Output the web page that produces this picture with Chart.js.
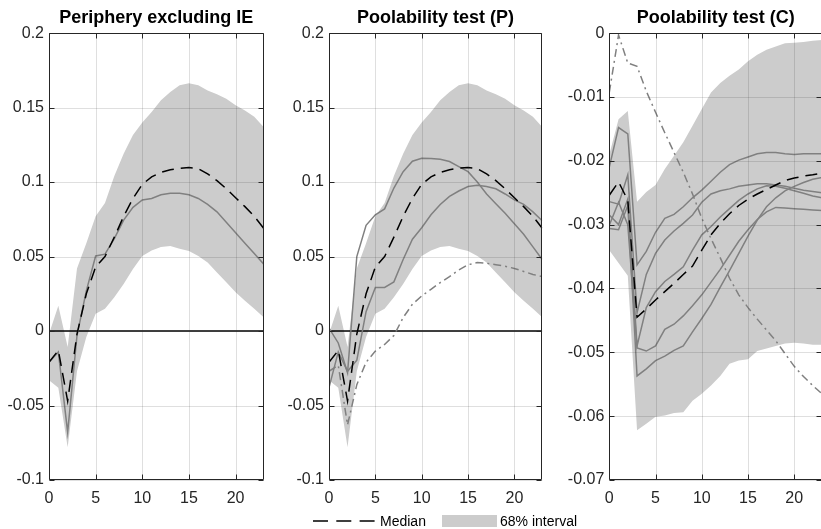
<!DOCTYPE html>
<html>
<head>
<meta charset="utf-8">
<script src="https://cdn.jsdelivr.net/npm/chart.js@4.4.1/dist/chart.umd.min.js"></script>
<style>
  html, body { margin: 0; padding: 0; background: #fff; }
  body { width: 821px; height: 529px; overflow: hidden; position: relative;
         font-family: "Liberation Sans", Arial, sans-serif; }
  canvas { position: absolute; top: 0; }
  .leg { position: absolute; font-size: 14px; color: #000; line-height: 14px; white-space: nowrap; }
</style>
</head>
<body>
<canvas id="p1" width="270" height="510" style="left:0px"></canvas>
<canvas id="p2" width="272" height="510" style="left:275px"></canvas>
<canvas id="p3" width="284" height="510" style="left:546px"></canvas>

<svg style="position:absolute;left:0;top:505px" width="821" height="24">
  <line x1="313" y1="16" x2="377" y2="16" stroke="#000" stroke-width="1.5" stroke-dasharray="15,8.3"></line>
  <rect x="442" y="10" width="55" height="12" fill="#cccccc"></rect>
</svg>
<div class="leg" style="left:380px;top:514px">Median</div>
<div class="leg" style="left:500px;top:514px">68% interval</div>

<script>
// Impulse-response horizons (quarters)
const horizons = [0,1,2,3,4,5,6,7,8,9,10,11,12,13,14,15,16,17,18,19,20,21,22,23];
const xTicks = [0, 5, 10, 15, 20];

// Pooled periphery model (excluding IE): median and 68% band
const medianPooled = [-0.021,-0.013,-0.047,-0.002,0.025,0.043,0.050,0.063,0.077,0.089,0.0985,0.1035,0.1065,0.1083,0.1093,0.1097,0.109,0.1055,0.101,0.0955,0.0895,0.0835,0.077,0.069];
const upperPooled  = [-0.002,0.017,-0.0107,0.042,0.059,0.077,0.086,0.104,0.119,0.1316,0.140,0.147,0.155,0.1604,0.165,0.1664,0.165,0.1615,0.159,0.156,0.1516,0.148,0.1438,0.137];
const lowerPooled  = [-0.033,-0.038,-0.078,-0.027,-0.004,0.0116,0.015,0.0227,0.0316,0.0416,0.0504,0.054,0.0564,0.057,0.0553,0.0538,0.0504,0.046,0.0393,0.0327,0.026,0.0204,0.0149,0.0093];
const peripheryLine = [-0.021,-0.014,-0.068,-0.003,0.027,0.0504,0.0516,0.062,0.0745,0.083,0.088,0.089,0.0915,0.0925,0.0925,0.0915,0.089,0.085,0.080,0.073,0.066,0.059,0.052,0.045];

// Poolability test (P): individual country responses
const countryPA = [0.002,-0.008,-0.028,0.050,0.071,0.078,0.082,0.096,0.107,0.114,0.116,0.1158,0.1153,0.1138,0.1104,0.107,0.100,0.092,0.0855,0.079,0.072,0.065,0.0565,0.048];
const countryPB = [-0.038,-0.014,-0.027,-0.0196,0.013,0.0293,0.0293,0.033,0.048,0.0616,0.0693,0.078,0.085,0.0904,0.094,0.097,0.0978,0.097,0.0955,0.092,0.088,0.085,0.080,0.074];
const excludedP = [-0.027,-0.023,-0.063,-0.036,-0.021,-0.0135,-0.009,-0.003,0.009,0.018,0.0235,0.028,0.0325,0.0365,0.041,0.0445,0.046,0.0455,0.0445,0.0435,0.042,0.040,0.038,0.0365];

// Poolability test (C): median, band, country responses and excluded country
const medianC = [-0.0254,-0.0233,-0.0262,-0.0445,-0.0432,-0.0418,-0.0405,-0.0392,-0.0378,-0.0365,-0.0340,-0.0316,-0.0298,-0.0283,-0.0270,-0.0260,-0.0252,-0.0245,-0.0238,-0.0231,-0.0227,-0.0224,-0.0222,-0.0219];
const upperC  = [-0.019,-0.0135,-0.0122,-0.0264,-0.0249,-0.0238,-0.0213,-0.0192,-0.0171,-0.0145,-0.0119,-0.0093,-0.0078,-0.0067,-0.0057,-0.0044,-0.0034,-0.0026,-0.0021,-0.0016,-0.0015,-0.0014,-0.0012,-0.0011];
const lowerC  = [-0.034,-0.036,-0.038,-0.0622,-0.0612,-0.0601,-0.0599,-0.0595,-0.0594,-0.0576,-0.0565,-0.0552,-0.0537,-0.0518,-0.0513,-0.0511,-0.0498,-0.0494,-0.049,-0.0486,-0.0485,-0.0486,-0.0488,-0.0488];
const countryC1 = [-0.0210,-0.0148,-0.0158,-0.0363,-0.0342,-0.0312,-0.0290,-0.0284,-0.0272,-0.0258,-0.0246,-0.0232,-0.0218,-0.0206,-0.0199,-0.0194,-0.0189,-0.0187,-0.0187,-0.0189,-0.0190,-0.0189,-0.0189,-0.0189];
const countryC2 = [-0.0264,-0.0268,-0.0222,-0.0438,-0.0378,-0.0345,-0.0324,-0.0310,-0.0298,-0.0285,-0.0265,-0.0252,-0.0247,-0.0244,-0.0240,-0.0238,-0.0236,-0.0236,-0.0238,-0.0240,-0.0243,-0.0246,-0.0248,-0.0250];
const countryC3 = [-0.0285,-0.0300,-0.0260,-0.0490,-0.0430,-0.0405,-0.0389,-0.0378,-0.0366,-0.0340,-0.0316,-0.0303,-0.0288,-0.0275,-0.0262,-0.0252,-0.0244,-0.0239,-0.0240,-0.0243,-0.0247,-0.0251,-0.0255,-0.0258];
const countryC4 = [-0.0301,-0.0265,-0.0300,-0.0493,-0.0498,-0.0490,-0.0464,-0.0456,-0.0443,-0.0427,-0.0410,-0.0390,-0.0370,-0.0348,-0.0326,-0.0308,-0.0292,-0.0280,-0.0273,-0.0274,-0.0275,-0.0276,-0.0277,-0.0278];
const countryC5 = [-0.0306,-0.0308,-0.0270,-0.0537,-0.0526,-0.0513,-0.0506,-0.0497,-0.0490,-0.0468,-0.0447,-0.0425,-0.0398,-0.0372,-0.0345,-0.0318,-0.0293,-0.0272,-0.0258,-0.0247,-0.0240,-0.0234,-0.0229,-0.0226];
const excludedC = [-0.0093,-0.0003,-0.0047,-0.0052,-0.0091,-0.0124,-0.0156,-0.0187,-0.0218,-0.0252,-0.0290,-0.0322,-0.0352,-0.0384,-0.0410,-0.0430,-0.0448,-0.0465,-0.0482,-0.0502,-0.0522,-0.0538,-0.0552,-0.0565];

// Axis ticks
const yTicksPos = [-0.1, -0.05, 0, 0.05, 0.1, 0.15, 0.2];
const yLabelsPos = ['-0.1', '-0.05', '0', '0.05', '0.1', '0.15', '0.2'];
const yTicksC = [-0.07, -0.06, -0.05, -0.04, -0.03, -0.02, -0.01, 0];
const yLabelsC = ['-0.07', '-0.06', '-0.05', '-0.04', '-0.03', '-0.02', '-0.01', '0'];
const zeroLevel = [0, 0];

const FONT = '"Liberation Sans", Arial, sans-serif';
const GREY = 'rgb(128,128,128)';
const BAND = '#cccccc';

const pts = arr => arr.map((v, i) => ({ x: horizons[i], y: v }));
const zeroPts = () => [{ x: horizons[0], y: zeroLevel[0] }, { x: horizons[horizons.length - 1], y: zeroLevel[1] }];

function medianSet(arr) {
  return { data: pts(arr), borderColor: '#000', borderWidth: 1.5, borderDash: [12, 7], pointRadius: 0, fill: false };
}
function countrySet(arr) {
  return { data: pts(arr), borderColor: GREY, borderWidth: 1.5, pointRadius: 0, fill: false };
}
function excludedSet(arr) {
  return { data: pts(arr), borderColor: GREY, borderWidth: 1.5, borderDash: [8, 4, 2, 4], pointRadius: 0, fill: false };
}
function zeroSet() {
  return { data: zeroPts(), borderColor: '#000', borderWidth: 1.5, pointRadius: 0, fill: false };
}
function bandSets(up, lo) {
  return [
    { data: pts(up), borderWidth: 0, borderColor: 'rgba(0,0,0,0)', backgroundColor: BAND, pointRadius: 0, fill: '+1' },
    { data: pts(lo), borderWidth: 0, borderColor: 'rgba(0,0,0,0)', pointRadius: 0, fill: false }
  ];
}

// Grid over the data, boxed axes and inward tick marks
const boxPlugin = {
  id: 'boxAxes',
  afterDatasetsDraw(chart) {
    const { ctx, chartArea: a, scales: { x, y } } = chart;
    ctx.save();
    ctx.lineWidth = 1;
    ctx.strokeStyle = 'rgba(38,38,38,0.15)';
    ctx.beginPath();
    x.ticks.forEach(t => {
      const px = Math.round(x.getPixelForValue(t.value)) + 0.5;
      ctx.moveTo(px, a.top); ctx.lineTo(px, a.bottom);
    });
    y.ticks.forEach(t => {
      const py = Math.round(y.getPixelForValue(t.value)) + 0.5;
      ctx.moveTo(a.left, py); ctx.lineTo(a.right, py);
    });
    ctx.stroke();

    ctx.strokeStyle = '#262626';
    ctx.beginPath();
    const L = Math.round(a.left) + 0.5, R = Math.round(a.right) - 0.5;
    const T = Math.round(a.top) + 0.5, B = Math.round(a.bottom) - 0.5;
    ctx.rect(L, T, R - L, B - T);
    const tl = 5;
    x.ticks.forEach(t => {
      const px = Math.round(x.getPixelForValue(t.value)) + 0.5;
      ctx.moveTo(px, B); ctx.lineTo(px, B - tl);
      ctx.moveTo(px, T); ctx.lineTo(px, T + tl);
    });
    y.ticks.forEach(t => {
      const py = Math.round(y.getPixelForValue(t.value)) + 0.5;
      ctx.moveTo(L, py); ctx.lineTo(L + tl, py);
      ctx.moveTo(R, py); ctx.lineTo(R - tl, py);
    });
    ctx.stroke();
    ctx.restore();
  }
};

function makePanel(id, title, datasets, yVals, yLabs, yMin, yMax, axisW, padRight) {
  return new Chart(document.getElementById(id), {
    type: 'line',
    data: { datasets },
    plugins: [boxPlugin],
    options: {
      responsive: false,
      animation: false,
      devicePixelRatio: 1,
      layout: { padding: { left: 0, right: padRight, top: 0, bottom: 0 } },
      plugins: {
        legend: { display: false },
        tooltip: { enabled: false },
        title: {
          display: true, text: title, color: '#000', fullSize: false,
          font: { family: FONT, size: 18, weight: 'bold' },
          padding: { top: 7, bottom: 4.5 }
        }
      },
      elements: { line: { tension: 0 } },
      scales: {
        x: {
          type: 'linear', min: horizons[0], max: horizons[horizons.length - 1],
          grid: { display: false, drawTicks: false },
          border: { display: false },
          afterBuildTicks: s => { s.ticks = xTicks.map(v => ({ value: v })); },
          afterFit: s => { s.height = 30; },
          ticks: { color: '#262626', padding: 9, font: { family: FONT, size: 16 }, maxRotation: 0,
                   callback: v => String(v) }
        },
        y: {
          type: 'linear', min: yMin, max: yMax,
          grid: { display: false, drawTicks: false },
          border: { display: false },
          afterBuildTicks: s => { s.ticks = yVals.map(v => ({ value: v })); },
          afterFit: s => { s.width = axisW; },
          ticks: { color: '#262626', padding: 5, font: { family: FONT, size: 16 },
                   callback: v => yLabs[yVals.indexOf(v)] }
        }
      }
    }
  });
}

makePanel('p1', 'Periphery excluding IE',
  [medianSet(medianPooled), countrySet(peripheryLine), zeroSet(), ...bandSets(upperPooled, lowerPooled)],
  yTicksPos, yLabelsPos, -0.1, 0.2, 49, 6.4);

makePanel('p2', 'Poolability test (P)',
  [medianSet(medianPooled), excludedSet(excludedP), countrySet(countryPA), countrySet(countryPB), zeroSet(),
   ...bandSets(upperPooled, lowerPooled)],
  yTicksPos, yLabelsPos, -0.1, 0.2, 54, 4.8);

makePanel('p3', 'Poolability test (C)',
  [medianSet(medianC), excludedSet(excludedC), countrySet(countryC1), countrySet(countryC2), countrySet(countryC3),
   countrySet(countryC4), countrySet(countryC5), ...bandSets(upperC, lowerC)],
  yTicksC, yLabelsC, -0.07, 0, 63.3, 8);
</script>
</body>
</html>
